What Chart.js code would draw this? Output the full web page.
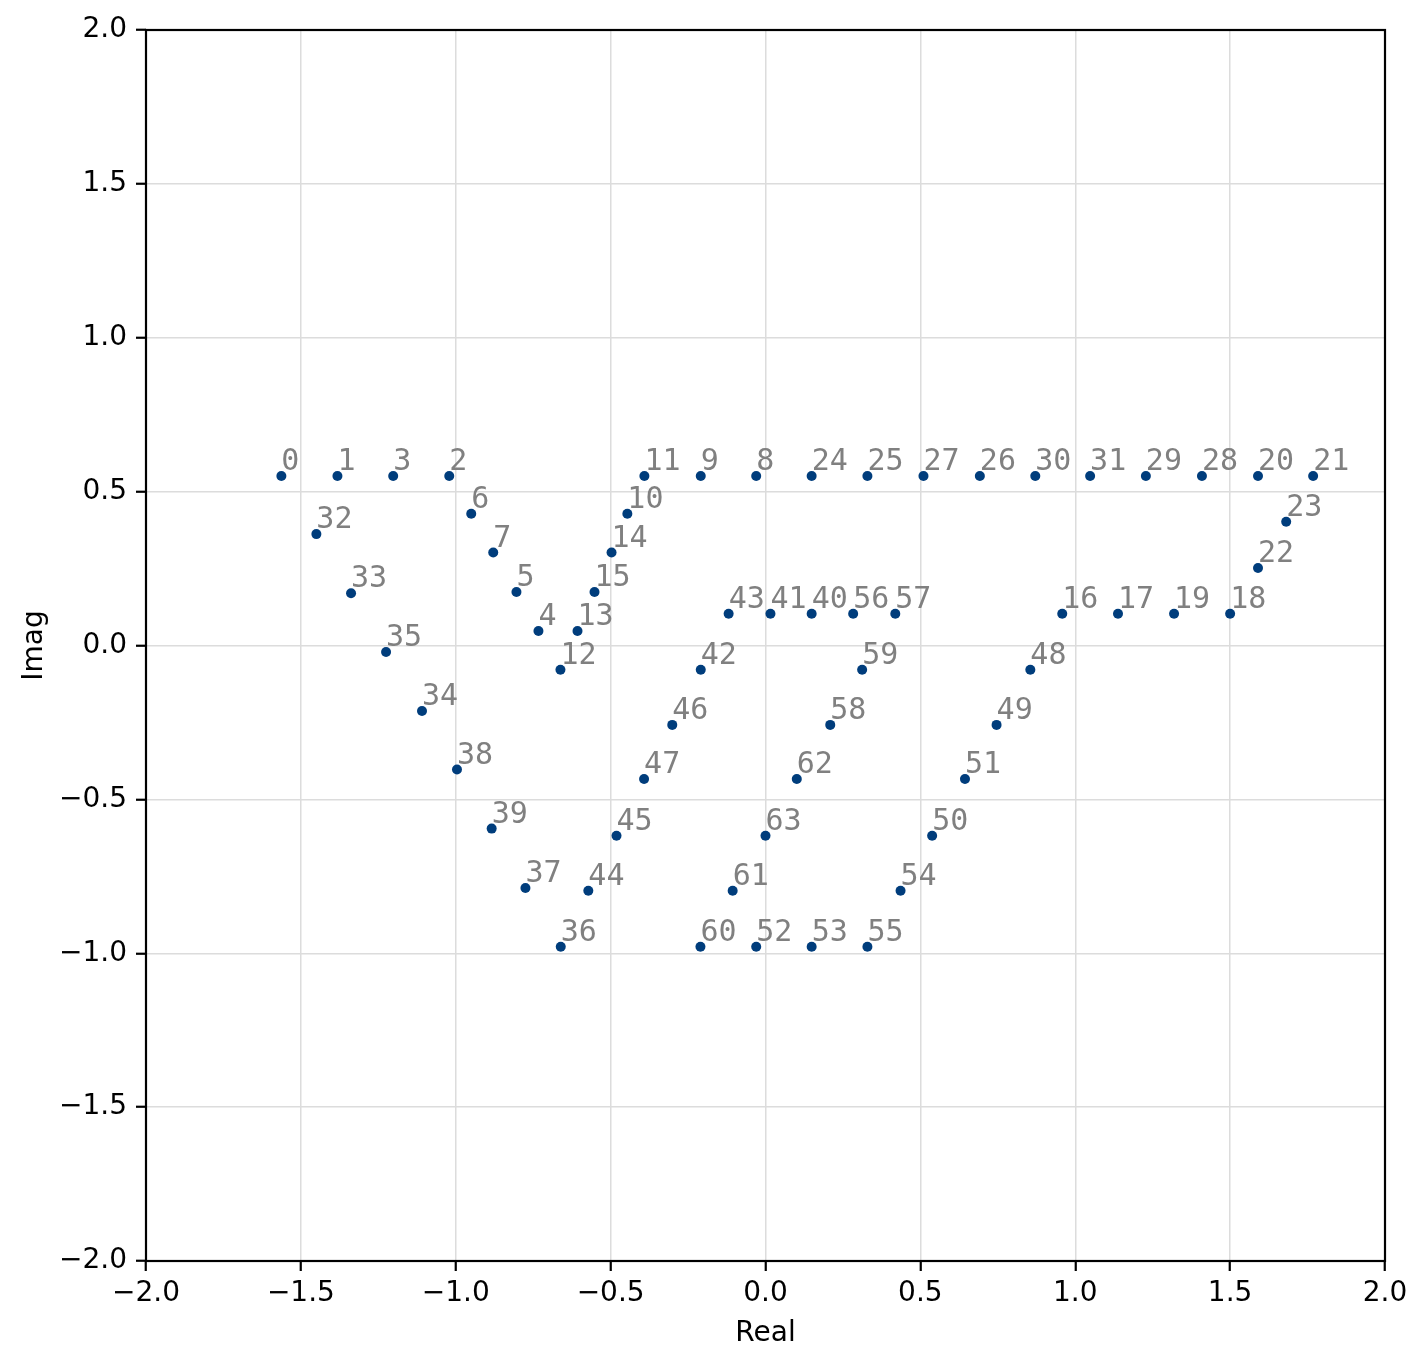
<!DOCTYPE html>
<html>
<head>
<meta charset="utf-8">
<script src="https://cdn.jsdelivr.net/npm/chart.js@4"></script>
<style>
  body { margin: 0; background: #fff; }
</style>
</head>
<body>
<canvas id="myChart" width="1428" height="1369"></canvas>
<script>
// indice de cada simbolo y su posicion (parte real / imaginaria)
const pointLabels = [];
for (let i = 0; i < 64; i++) pointLabels.push(String(i));

const realVals = [
  -1.563, -1.382, -1.021, -1.202, -0.733, -0.804, -0.950, -0.879,
  -0.030, -0.209, -0.446, -0.391, -0.662, -0.607, -0.497, -0.552,
  0.958, 1.138, 1.500, 1.319, 1.590, 1.768, 1.590, 1.681,
  0.149, 0.329, 0.692, 0.510, 1.409, 1.228, 0.871, 1.048,
  -1.450, -1.338, -1.109, -1.225, -0.661, -0.775, -0.996, -0.884,
  0.149, 0.016, -0.209, -0.119, -0.572, -0.481, -0.301, -0.392,
  0.855, 0.746, 0.538, 0.644, -0.030, 0.149, 0.436, 0.329,
  0.283, 0.419, 0.209, 0.312, -0.210, -0.106, 0.101, 0.000
];
const imagVals = [
  0.551, 0.551, 0.551, 0.551, 0.047, 0.174, 0.428, 0.302,
  0.551, 0.551, 0.428, 0.551, -0.079, 0.047, 0.302, 0.174,
  0.103, 0.103, 0.103, 0.103, 0.551, 0.551, 0.252, 0.402,
  0.551, 0.551, 0.551, 0.551, 0.551, 0.551, 0.551, 0.551,
  0.362, 0.170, -0.213, -0.021, -0.979, -0.788, -0.403, -0.595,
  0.103, 0.103, -0.079, 0.103, -0.797, -0.618, -0.258, -0.434,
  -0.079, -0.258, -0.618, -0.434, -0.979, -0.979, -0.797, -0.979,
  0.103, 0.103, -0.258, -0.079, -0.979, -0.797, -0.434, -0.618
];
const tickVals = [-2, -1.5, -1, -0.5, 0, 0.5, 1, 1.5, 2];

const puntos = realVals.map((x, i) => ({ x: x, y: imagVals[i] }));

// numeros grises junto a cada punto
const etiquetas = {
  id: "etiquetas",
  afterDatasetsDraw(chart) {
    const ctx = chart.ctx;
    const meta = chart.getDatasetMeta(0);
    ctx.save();
    ctx.font = '30px "DejaVu Sans Mono"';
    ctx.fillStyle = "#808080";
    ctx.textAlign = "left";
    ctx.textBaseline = "alphabetic";
    meta.data.forEach((pt, i) => {
      ctx.fillText(pointLabels[i], pt.x, pt.y - 6);
    });
    ctx.restore();
  }
};

// marco negro alrededor del area
const marco = {
  id: "marco",
  afterDraw(chart) {
    const { left, top, right, bottom } = chart.chartArea;
    const ctx = chart.ctx;
    ctx.save();
    ctx.strokeStyle = "#000";
    ctx.lineWidth = 2.2;
    ctx.strokeRect(left, top, right - left, bottom - top);
    ctx.restore();
  }
};

const fmt = v => Number(v).toFixed(1).replace("-", "\u2212");

const canvas = document.getElementById("myChart");
new Chart(canvas, {
  type: "scatter",
  data: {
    datasets: [{
      data: puntos,
      backgroundColor: "#003d7c",
      borderWidth: 0,
      pointRadius: 5
    }]
  },
  options: {
    responsive: false,
    animation: false,
    devicePixelRatio: 1,
    layout: { padding: { left: 0, top: 30, right: 43, bottom: 0 } },
    plugins: {
      legend: { display: false },
      tooltip: { enabled: false }
    },
    scales: {
      x: {
        type: "linear",
        min: -2,
        max: 2,
        afterFit: s => { s.height = 108; },
        afterBuildTicks: s => { s.ticks = tickVals.map(v => ({ value: v })); },
        ticks: {
          autoSkip: false,
          maxRotation: 0,
          padding: 6,
          color: "#000",
          font: { family: "DejaVu Sans", size: 28 },
          callback: fmt
        },
        grid: {
          color: "#dcdcdc",
          lineWidth: 1.5,
          tickColor: "#000",
          tickWidth: 2.2,
          tickLength: 10
        },
        border: { display: false },
        title: {
          display: true,
          text: "Real",
          color: "#000",
          font: { family: "DejaVu Sans", size: 28 },
          padding: { top: 0, bottom: 18 }
        }
      },
      y: {
        type: "linear",
        min: -2,
        max: 2,
        afterFit: s => { s.width = 146; },
        afterBuildTicks: s => { s.ticks = tickVals.map(v => ({ value: v })); },
        ticks: {
          autoSkip: false,
          padding: 9,
          color: "#000",
          font: { family: "DejaVu Sans", size: 28 },
          callback: fmt
        },
        grid: {
          color: "#dcdcdc",
          lineWidth: 1.5,
          tickColor: "#000",
          tickWidth: 2.2,
          tickLength: 10
        },
        border: { display: false },
        title: {
          display: true,
          text: "Imag",
          color: "#000",
          font: { family: "DejaVu Sans", size: 28 },
          padding: { top: 18, bottom: 0 }
        }
      }
    }
  },
  plugins: [etiquetas, marco]
});
</script>
</body>
</html>
